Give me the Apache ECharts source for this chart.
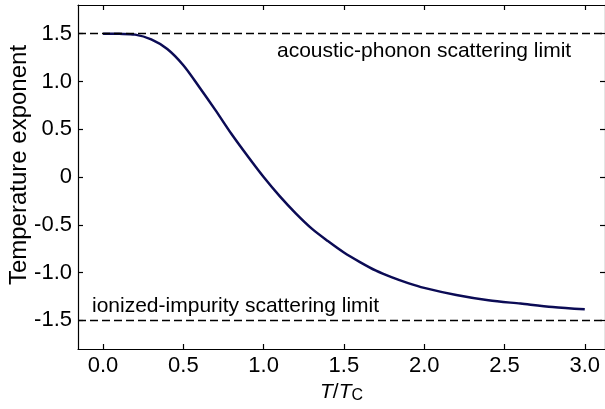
<!DOCTYPE html>
<html>
<head>
<meta charset="utf-8">
<script src="https://cdn.jsdelivr.net/npm/echarts@6/dist/echarts.min.js"></script>
<style>
  html, body { margin: 0; padding: 0; background: #fff; }
  #main { width: 605px; height: 409px; }
</style>
</head>
<body>
<div id="main"></div>
<script>
// T/Tc values and temperature exponent
var tRatio = [0, 0.1, 0.2, 0.3, 0.4, 0.5, 0.6, 0.7, 0.8, 0.9, 1.0, 1.1, 1.2, 1.3, 1.4, 1.5, 1.6, 1.7, 1.8, 1.9, 2.0, 2.2, 2.4, 2.6, 2.8, 3.0];
var exponent = [1.5, 1.498, 1.49, 1.44, 1.34, 1.17, 0.94, 0.70, 0.45, 0.22, 0.0, -0.20, -0.38, -0.54, -0.67, -0.79, -0.89, -0.98, -1.05, -1.11, -1.16, -1.235, -1.29, -1.325, -1.36, -1.385];
var xTicks = [0, 0.5, 1.0, 1.5, 2.0, 2.5, 3.0];
var yTicks = [-1.5, -1.0, -0.5, 0, 0.5, 1.0, 1.5];
var limits = [1.5, -1.5];

var font = 'Liberation Sans, Arial, sans-serif';

var lineData = [];
for (var i = 0; i < tRatio.length; i++) {
    lineData.push([tRatio[i], exponent[i]]);
}

function fmtY(v) {
    if (v === 0) return '0';
    return v.toFixed(1);
}

var myChart = echarts.init(document.getElementById('main'));
var option = {
    animation: false,
    grid: { left: 78, right: 0, top: 5, bottom: 60, containLabel: false, outerBoundsMode: 'none' },
    xAxis: [{
        type: 'value',
        min: -0.156,
        max: 3.126,
        position: 'bottom',
        name: '{i|T}/{i|T}{s|C}',
        nameLocation: 'middle',
        nameGap: 31,
        nameMoveOverlap: false,
        nameTextStyle: {
            rich: {
                i: { fontFamily: font, fontSize: 21, fontStyle: 'italic', color: '#000' },
                s: { fontFamily: font, fontSize: 16, color: '#000', padding: [8, 0, 0, 0] }
            },
            fontFamily: font, fontSize: 21, color: '#000'
        },
        splitLine: { show: false },
        axisLine: { onZero: false, lineStyle: { color: '#000', width: 1.2 } },
        axisTick: { inside: true, length: 5, customValues: xTicks, lineStyle: { color: '#000', width: 1.2 } },
        axisLabel: {
            customValues: xTicks, margin: 6,
            fontFamily: font, fontSize: 22, color: '#000',
            formatter: function (v) { return v.toFixed(1); }
        }
    }, {
        type: 'value',
        min: -0.156,
        max: 3.126,
        position: 'top',
        splitLine: { show: false },
        axisLine: { onZero: false, lineStyle: { color: '#000', width: 1.2 } },
        axisTick: { inside: true, length: 5, customValues: xTicks, lineStyle: { color: '#000', width: 1.2 } },
        axisLabel: { show: false }
    }],
    yAxis: [{
        type: 'value',
        min: -1.8,
        max: 1.8,
        position: 'left',
        name: 'Temperature exponent',
        nameLocation: 'middle',
        nameGap: 47,
        nameMoveOverlap: false,
        nameTextStyle: { fontFamily: font, fontSize: 24, color: '#000', padding: [0, 0, 0, 24] },
        splitLine: { show: false },
        axisLine: { onZero: false, lineStyle: { color: '#000', width: 1.2 } },
        axisTick: { inside: true, length: 5, customValues: yTicks, lineStyle: { color: '#000', width: 1.2 } },
        axisLabel: {
            customValues: yTicks, margin: 6,
            fontFamily: font, fontSize: 22, color: '#000',
            formatter: fmtY
        }
    }, {
        type: 'value',
        min: -1.8,
        max: 1.8,
        position: 'right',
        splitLine: { show: false },
        axisLine: { onZero: false, lineStyle: { color: '#000', width: 1.2 } },
        axisTick: { inside: true, length: 5, customValues: yTicks, lineStyle: { color: '#000', width: 1.2 } },
        axisLabel: { show: false }
    }],
    graphic: [{
        type: 'text', left: 277, top: 41,
        style: { text: 'acoustic-phonon scattering limit', font: '21px ' + font, fill: '#000' }
    }, {
        type: 'text', left: 92, top: 296,
        style: { text: 'ionized-impurity scattering limit', font: '21px ' + font, fill: '#000' }
    }],
    series: [{
        type: 'line',
        data: lineData,
        smooth: 0.3,
        showSymbol: false,
        lineStyle: { color: '#0b0b55', width: 2.5 },
        markLine: {
            silent: true,
            symbol: 'none',
            label: { show: false },
            lineStyle: { color: '#000', type: [8, 4], width: 1.3 },
            data: limits.map(function (v) { return { yAxis: v }; })
        }
    }]
};
myChart.setOption(option);
</script>
</body>
</html>
